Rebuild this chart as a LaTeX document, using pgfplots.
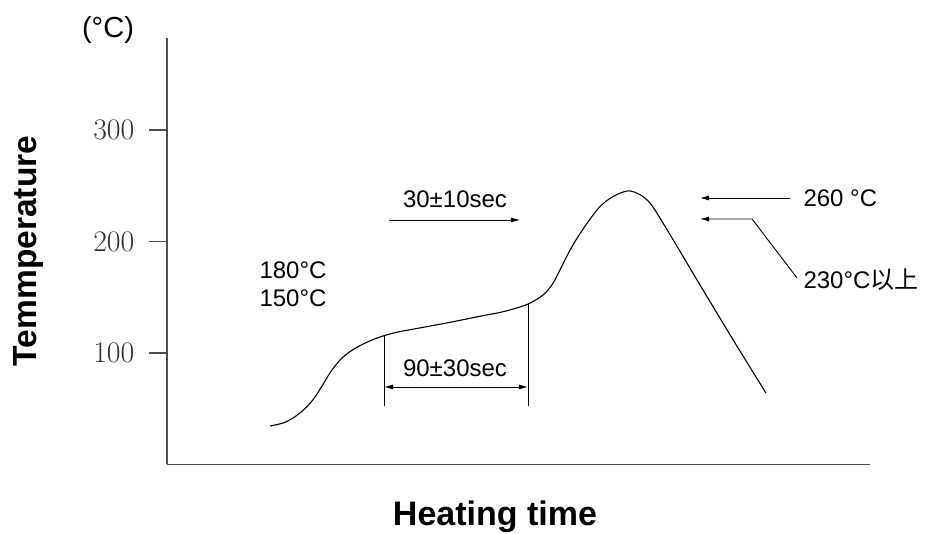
\documentclass[border=0pt]{standalone}
\usepackage{fontspec}
\setmainfont{Liberation Sans}
\newfontfamily\cjk{Noto Sans CJK SC}
\usepackage{pgfplots}
\pgfplotsset{compat=1.18}
\usetikzlibrary{arrows.meta}

% reflow profile, x in px from the y axis, y in degC
\pgfplotstableread{
x y
103 34.5
116 37.2
126 41.7
136 48.5
146 58.1
156 71.7
163 82.2
173 93.7
183 101.2
193 106.6
206 112
218 115.8
232 119
250 122
283 127.5
316 133.5
336 137
360 143.5
376 152
386 162.5
396 180
406 197
420 216.3
433 231.3
446 240.3
461 245.4
473 242
483 234.5
493 221
513 191.2
533 161
566 112
599 64
}\profile

\begin{document}
\begin{tikzpicture}
\useasboundingbox (0,0) rectangle (928pt,534pt);
\begin{axis}[
    at={(167pt,69.5pt)}, anchor=south west,
    scale only axis,
    width=703pt, height=426.5pt,
    xmin=0, xmax=703,
    ymin=0, ymax=382.5,
    enlargelimits=false,
    axis lines=left,
    axis line style={-, black!70, line width=1.8pt},
    xtick=\empty,
    ytick={100,200,300},
    tick align=outside,
    major tick length=18pt,
    tick style={black!70, line width=1.4pt},
    yticklabel style={font=\fontsize{24.88}{26}\selectfont, scale=1.2, text=black!80, inner sep=1pt, xshift=-11pt},
    clip=false,
]
\addplot[black, line width=1.1pt, smooth, tension=0.5] table[x=x, y=y] {\profile};

\begin{scope}[font=\fontsize{24}{28}\selectfont]
% 90+-30 sec window
\draw[black, line width=0.9pt] (axis cs:217,115.5) -- (axis cs:217,52.5);
\draw[black, line width=0.9pt] (axis cs:361,144) -- (axis cs:361,52.5);
\draw[black, line width=0.9pt, {Latex[length=9pt,width=5pt]}-{Latex[length=9pt,width=5pt]}] (axis cs:217,69.5) -- (axis cs:361,69.5);
\node at (axis cs:288,86.5) {90±30sec};
% 30+-10 sec
\draw[black, line width=0.9pt, -{Latex[length=9pt,width=5pt]}] (axis cs:222,219.3) -- (axis cs:353,219.3);
\node at (axis cs:288,237.5) {30±10sec};
% left temperatures
\node[anchor=west] at (axis cs:89,174.4) {180°C};
\node[anchor=west] at (axis cs:89,149.3) {150°C};
% peak annotations
\draw[black, line width=0.9pt, -{Latex[length=9pt,width=5pt]}] (axis cs:623,239) -- (axis cs:533,239);
\node[anchor=west] at (axis cs:633,239) {260 °C};
\draw[black, line width=0.9pt, -{Latex[length=9pt,width=5pt]}] (axis cs:630,167.3) -- (axis cs:585,220.2) -- (axis cs:533,220.2);
\node[anchor=west] at (axis cs:633,165.5) {230°C{\cjk 以上}};
\end{scope}
% unit
\node[font=\fontsize{29}{32}\selectfont] at (axis cs:-59,389.7) {(°C)};
% axis titles
\node[rotate=90, anchor=base, font=\bfseries\fontsize{33.5}{36}\selectfont] at (axis cs:-130,191.5) {Temmperature};
\node[anchor=base, font=\bfseries\fontsize{34}{36}\selectfont] at (axis cs:328,-54.3) {Heating time};
\end{axis}
\end{tikzpicture}
\end{document}
